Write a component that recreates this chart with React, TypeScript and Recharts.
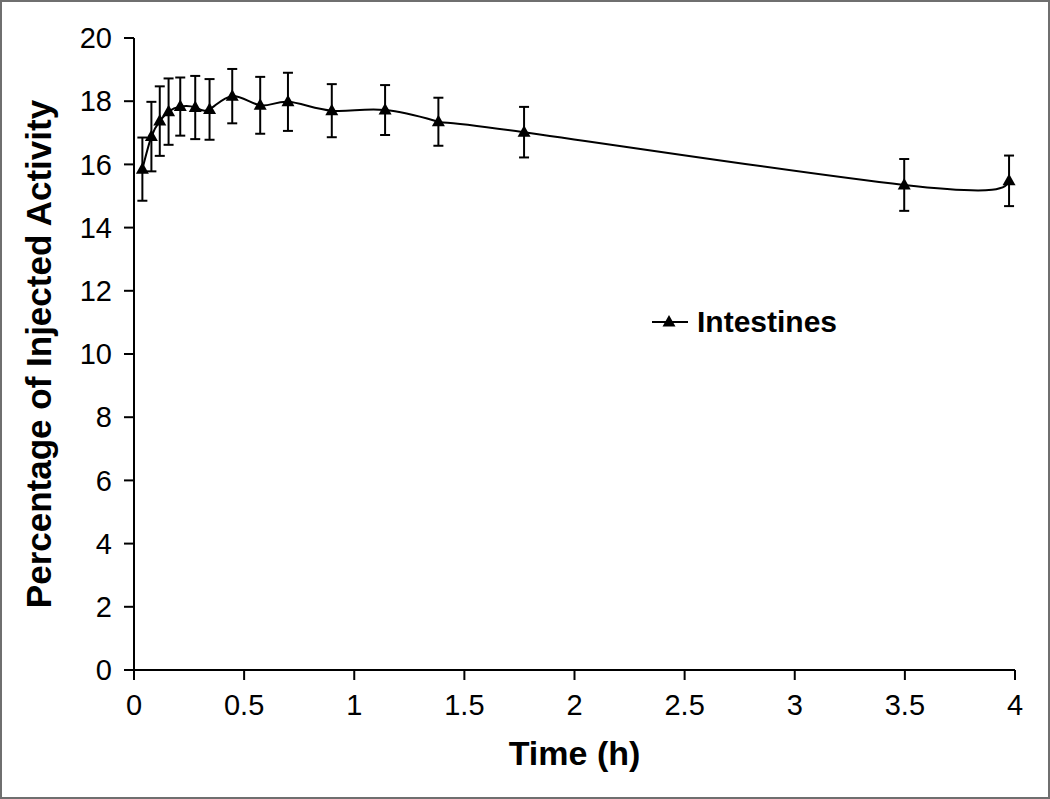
import * as React from "react";
import {
  LineChart,
  Line,
  XAxis,
  YAxis,
  ErrorBar,
  Legend,
} from "recharts";

// time (h)
const times = [
  0.038, 0.079, 0.117, 0.157, 0.21, 0.278, 0.343, 0.446, 0.573, 0.699, 0.898,
  1.14, 1.382, 1.771, 3.497, 3.973,
];
// percentage of injected activity
const intestines = [
  15.85, 16.88, 17.37, 17.67, 17.83, 17.8, 17.74, 18.16, 17.87, 17.98, 17.7,
  17.72, 17.35, 17.02, 15.35, 15.48,
];
const intestinesErr = [
  1.0, 1.1, 1.1, 1.05, 0.92, 1.0, 0.96, 0.86, 0.9, 0.92, 0.84, 0.79, 0.76,
  0.8, 0.82, 0.8,
];

const xTicks = [0, 0.5, 1, 1.5, 2, 2.5, 3, 3.5, 4];
const yTicks = [0, 2, 4, 6, 8, 10, 12, 14, 16, 18, 20];

const data = times.map((t, i) => ({
  time: t,
  value: intestines[i],
  err: intestinesErr[i],
}));

const FONT = '"Liberation Sans", Arial, sans-serif';

const Triangle = (props: any) => {
  const { cx, cy } = props;
  if (cx == null || cy == null) return null;
  return (
    <polygon
      points={`${cx},${cy - 7} ${cx - 6.5},${cy + 4.5} ${cx + 6.5},${cy + 4.5}`}
      fill="#000"
    />
  );
};

const LegendBox = () => (
  <div
    style={{
      display: "flex",
      alignItems: "center",
      fontFamily: FONT,
      fontWeight: "bold",
      fontSize: 30,
    }}
  >
    <svg width={40} height={20}>
      <line x1={2} y1={10} x2={38} y2={10} stroke="#000" strokeWidth={2} />
      <polygon points="19,3 12.5,14.5 25.5,14.5" fill="#000" />
    </svg>
    <span style={{ marginLeft: 7 }}>Intestines</span>
  </div>
);

const App = () => {
  return (
    <div style={{ position: "relative", width: 1050, height: 799 }}>
      <style>{`body{margin:0;}`}</style>
      <LineChart
        width={1050}
        height={799}
        data={data}
        margin={{ top: 38, right: 35, bottom: 0, left: 0 }}
      >
        <XAxis
          dataKey="time"
          type="number"
          domain={[0, 4]}
          ticks={xTicks}
          height={129}
          axisLine={{ stroke: "#000", strokeWidth: 2 }}
          tickLine={{ stroke: "#000", strokeWidth: 2 }}
          tickSize={10}
          tickMargin={14}
          tick={{ fill: "#000", fontSize: 29, fontFamily: FONT }}
          label={{
            value: "Time (h)",
            position: "insideBottom",
            offset: 34,
            fill: "#000",
            fontSize: 34,
            fontWeight: "bold",
            fontFamily: FONT,
          }}
        />
        <YAxis
          type="number"
          domain={[0, 20]}
          ticks={yTicks}
          width={134}
          axisLine={{ stroke: "#000", strokeWidth: 2 }}
          tickLine={{ stroke: "#000", strokeWidth: 2 }}
          tickSize={10}
          tickMargin={12}
          tick={{ fill: "#000", fontSize: 29, fontFamily: FONT }}
          label={(props: any) => {
            const vb = props.viewBox || {};
            const cy = vb.y + vb.height / 2;
            return (
              <text
                x={51}
                y={cy}
                transform={`rotate(-90, 51, ${cy})`}
                textAnchor="middle"
                fill="#000"
                fontSize={35}
                fontWeight="bold"
                fontFamily={FONT}
              >
                Percentage of Injected Activity
              </text>
            );
          }}
        />
        <Legend
          layout="horizontal"
          verticalAlign="middle"
          align="center"
          content={() => <LegendBox />}
          wrapperStyle={{ position: "absolute", left: 650, top: 305, width: "auto" }}
        />
        <Line
          dataKey="value"
          name="Intestines"
          type="natural"
          stroke="#000"
          strokeWidth={2}
          dot={<Triangle />}
          activeDot={false}
          isAnimationActive={false}
        >
          <ErrorBar
            dataKey="err"
            width={5}
            stroke="#000"
            strokeWidth={2}
            direction="y"
            isAnimationActive={false}
          />
        </Line>
      </LineChart>
      <div
        style={{
          position: "absolute",
          inset: 0,
          border: "2px solid #6f6f6f",
          boxSizing: "border-box",
          pointerEvents: "none",
        }}
      />
    </div>
  );
};

export default App;
